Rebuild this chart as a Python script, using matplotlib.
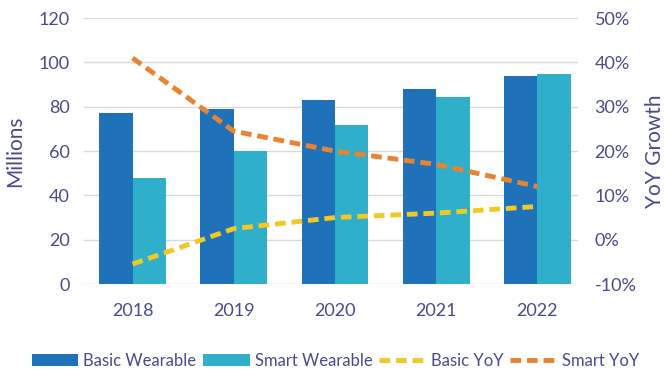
import matplotlib
matplotlib.use("Agg")
import matplotlib.pyplot as plt
import numpy as np
from matplotlib.ticker import FuncFormatter

years = ["2018", "2019", "2020", "2021", "2022"]
basic_wearable = [77, 79, 83, 88, 94]
smart_wearable = [48, 60, 72, 84.5, 95]
basic_yoy = [-5.5, 2.5, 5, 6, 7.5]
smart_yoy = [41, 24.5, 20, 17, 12]

c_basic = "#1F72BA"
c_smart = "#2FAFC9"
c_byoy = "#F2C824"
c_syoy = "#E8832F"
c_text = "#4A4A8C"
plt.rcParams["font.family"] = ["Lato", "DejaVu Sans"]

fig = plt.figure(figsize=(6.72, 3.71), dpi=100)
ax = fig.add_axes([0.125, 0.2345, 0.735, 0.7165])
x = np.arange(len(years))
w = 0.33
ax.bar(x - w / 2, basic_wearable, w, color=c_basic, label="Basic Wearable", zorder=2)
ax.bar(x + w / 2, smart_wearable, w, color=c_smart, label="Smart Wearable", zorder=2)
ax.set_ylim(0, 120)
ax.set_yticks(range(0, 121, 20))
ax.set_xlim(-0.48, 4.4)
ax.set_xticks(x)
ax.set_xticklabels(years)
ax.grid(axis="y", color="#D9D9D9", linewidth=1, zorder=0)
for s in ax.spines.values():
    s.set_visible(False)
ax.tick_params(length=0, colors=c_text, labelsize=13)
ax.tick_params(axis="x", pad=14)
ax.tick_params(axis="y", pad=10)
ax.set_ylabel("Millions", color=c_text, fontsize=15, labelpad=10)

ax2 = ax.twinx()
ax2.plot(x, basic_yoy, color=c_byoy, linestyle=(0, (2.2, 1.2)), linewidth=3.5, label="Basic YoY", zorder=3)
ax2.plot(x, smart_yoy, color=c_syoy, linestyle=(0, (2.2, 1.2)), linewidth=3.5, label="Smart YoY", zorder=3)
ax2.set_ylim(-10, 50)
ax2.set_yticks(range(-10, 51, 10))
ax2.yaxis.set_major_formatter(FuncFormatter(lambda v, p: f"{v:.0f}%"))
for s in ax2.spines.values():
    s.set_visible(False)
ax2.tick_params(length=0, colors=c_text, labelsize=13, pad=12)
ax2.set_ylabel("YoY Growth", color=c_text, fontsize=15, labelpad=6)

h1, l1 = ax.get_legend_handles_labels()
h2, l2 = ax2.get_legend_handles_labels()
fig.legend(h1 + h2, l1 + l2, loc="lower left", bbox_to_anchor=(0.03, -0.025), ncol=4,
           frameon=False, fontsize=12, handlelength=2.8, handleheight=0.7,
           columnspacing=0.4, handletextpad=0.3, borderaxespad=0.3, labelcolor=c_text)

fig.savefig("out.png", dpi=100)
